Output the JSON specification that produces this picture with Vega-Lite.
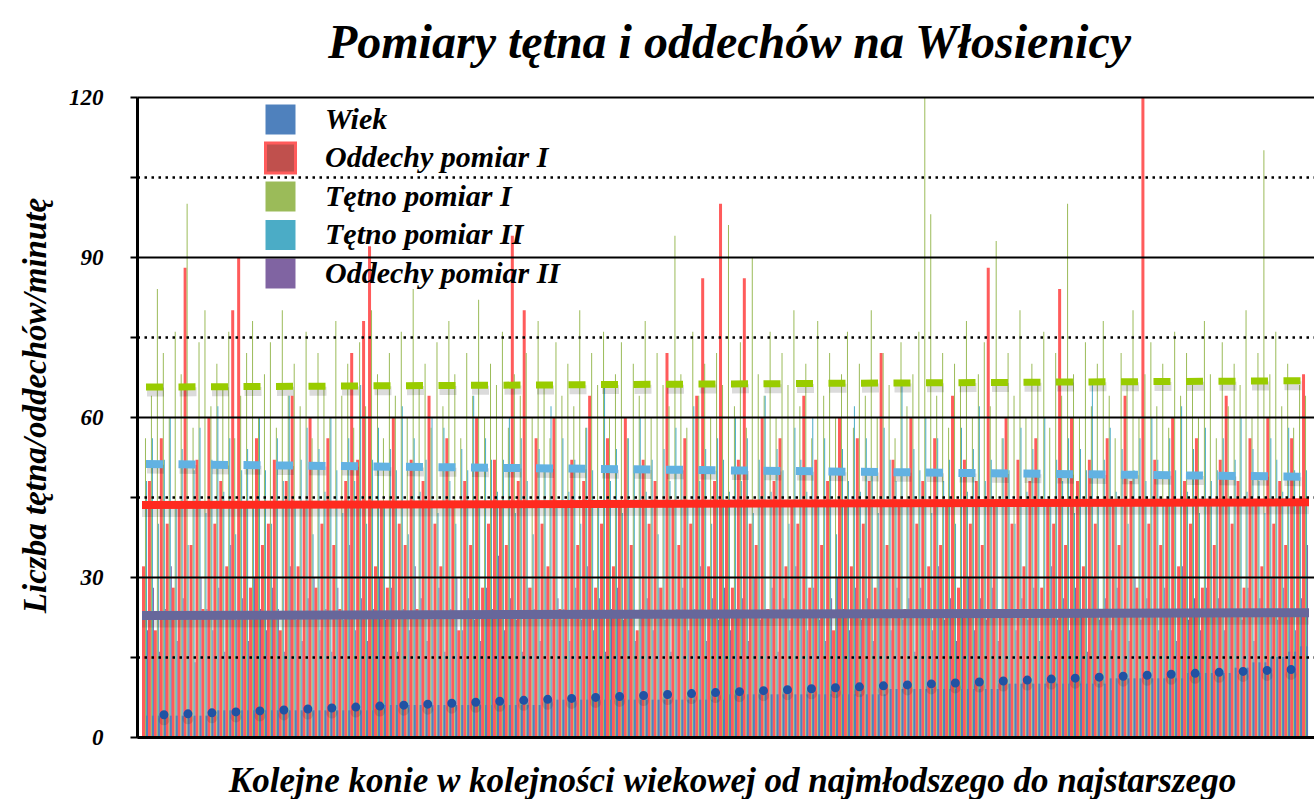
{
"$schema": "https://vega.github.io/schema/vega-lite/v6.json",
"width": 1177, "height": 640,
"autosize": {"type": "none"},
"padding": {"left": 137, "top": 97, "right": 0, "bottom": 62},
"background": "#ffffff",
"title": {"text": "Pomiary tętna i oddechów na Włosienicy", "font": "Liberation Serif", "fontSize": 48, "fontStyle": "italic", "fontWeight": "bold", "color": "#000000", "anchor": "middle", "baseline": "alphabetic", "offset": -20, "dx": 4},
"datasets": {
"horses": [
{"n":1,"w":4,"o1":32,"t1":56,"t2":48,"o2":20},
{"n":2,"w":4,"o1":48,"t1":64,"t2":56,"o2":28},
{"n":3,"w":4,"o1":20,"t1":84,"t2":40,"o2":16},
{"n":4,"w":4,"o1":56,"t1":72,"t2":52,"o2":24},
{"n":5,"w":4,"o1":40,"t1":60,"t2":60,"o2":32},
{"n":6,"w":4,"o1":28,"t1":76,"t2":44,"o2":18},
{"n":7,"w":4,"o1":44,"t1":68,"t2":54,"o2":26},
{"n":8,"w":4,"o1":88,"t1":100,"t2":36,"o2":22},
{"n":9,"w":4,"o1":36,"t1":58,"t2":50,"o2":14},
{"n":10,"w":4,"o1":52,"t1":74,"t2":58,"o2":30},
{"n":11,"w":4,"o1":24,"t1":80,"t2":42,"o2":24},
{"n":12,"w":5,"o1":60,"t1":62,"t2":52,"o2":20},
{"n":13,"w":5,"o1":40,"t1":70,"t2":62,"o2":28},
{"n":14,"w":5,"o1":48,"t1":66,"t2":46,"o2":16},
{"n":15,"w":5,"o1":32,"t1":76,"t2":56,"o2":36},
{"n":16,"w":5,"o1":80,"t1":56,"t2":38,"o2":22},
{"n":17,"w":5,"o1":90,"t1":64,"t2":50,"o2":26},
{"n":18,"w":5,"o1":44,"t1":72,"t2":54,"o2":18},
{"n":19,"w":5,"o1":28,"t1":78,"t2":44,"o2":30},
{"n":20,"w":5,"o1":56,"t1":60,"t2":60,"o2":24},
{"n":21,"w":5,"o1":36,"t1":68,"t2":50,"o2":20},
{"n":22,"w":5,"o1":40,"t1":74,"t2":40,"o2":28},
{"n":23,"w":5,"o1":52,"t1":58,"t2":56,"o2":24},
{"n":24,"w":5,"o1":20,"t1":80,"t2":48,"o2":16},
{"n":25,"w":5,"o1":48,"t1":64,"t2":64,"o2":32},
{"n":26,"w":5,"o1":64,"t1":70,"t2":44,"o2":22},
{"n":27,"w":5,"o1":32,"t1":62,"t2":52,"o2":18},
{"n":28,"w":5,"o1":44,"t1":76,"t2":58,"o2":26},
{"n":29,"w":5,"o1":60,"t1":56,"t2":38,"o2":30},
{"n":30,"w":5,"o1":28,"t1":72,"t2":54,"o2":20},
{"n":31,"w":5,"o1":40,"t1":66,"t2":46,"o2":24},
{"n":32,"w":5,"o1":56,"t1":60,"t2":60,"o2":16},
{"n":33,"w":5,"o1":36,"t1":78,"t2":50,"o2":28},
{"n":34,"w":5,"o1":24,"t1":64,"t2":42,"o2":22},
{"n":35,"w":5,"o1":48,"t1":70,"t2":56,"o2":36},
{"n":36,"w":5,"o1":72,"t1":58,"t2":48,"o2":20},
{"n":37,"w":5,"o1":52,"t1":74,"t2":66,"o2":26},
{"n":38,"w":5,"o1":78,"t1":62,"t2":40,"o2":18},
{"n":39,"w":5,"o1":92,"t1":80,"t2":52,"o2":24},
{"n":40,"w":6,"o1":32,"t1":68,"t2":58,"o2":30},
{"n":41,"w":6,"o1":44,"t1":56,"t2":44,"o2":22},
{"n":42,"w":6,"o1":28,"t1":72,"t2":54,"o2":28},
{"n":43,"w":6,"o1":60,"t1":64,"t2":50,"o2":16},
{"n":44,"w":6,"o1":40,"t1":76,"t2":62,"o2":24},
{"n":45,"w":6,"o1":36,"t1":60,"t2":38,"o2":20},
{"n":46,"w":6,"o1":52,"t1":84,"t2":56,"o2":32},
{"n":47,"w":6,"o1":24,"t1":66,"t2":46,"o2":26},
{"n":48,"w":6,"o1":48,"t1":70,"t2":52,"o2":18},
{"n":49,"w":6,"o1":64,"t1":58,"t2":60,"o2":22},
{"n":50,"w":6,"o1":40,"t1":74,"t2":42,"o2":28},
{"n":51,"w":6,"o1":32,"t1":62,"t2":58,"o2":16},
{"n":52,"w":6,"o1":56,"t1":78,"t2":48,"o2":24},
{"n":53,"w":6,"o1":44,"t1":68,"t2":40,"o2":30},
{"n":54,"w":6,"o1":20,"t1":56,"t2":54,"o2":20},
{"n":55,"w":6,"o1":48,"t1":72,"t2":50,"o2":26},
{"n":56,"w":6,"o1":36,"t1":64,"t2":64,"o2":22},
{"n":57,"w":6,"o1":60,"t1":82,"t2":44,"o2":18},
{"n":58,"w":6,"o1":28,"t1":60,"t2":56,"o2":28},
{"n":59,"w":6,"o1":40,"t1":70,"t2":52,"o2":24},
{"n":60,"w":6,"o1":52,"t1":66,"t2":46,"o2":34},
{"n":61,"w":6,"o1":44,"t1":76,"t2":52,"o2":20},
{"n":62,"w":6,"o1":36,"t1":58,"t2":60,"o2":26},
{"n":63,"w":6,"o1":94,"t1":68,"t2":42,"o2":22},
{"n":64,"w":6,"o1":48,"t1":64,"t2":56,"o2":16},
{"n":65,"w":6,"o1":80,"t1":72,"t2":48,"o2":28},
{"n":66,"w":6,"o1":28,"t1":60,"t2":38,"o2":24},
{"n":67,"w":6,"o1":56,"t1":78,"t2":54,"o2":18},
{"n":68,"w":7,"o1":40,"t1":66,"t2":50,"o2":30},
{"n":69,"w":7,"o1":32,"t1":56,"t2":62,"o2":22},
{"n":70,"w":7,"o1":60,"t1":74,"t2":44,"o2":26},
{"n":71,"w":7,"o1":24,"t1":64,"t2":56,"o2":24},
{"n":72,"w":7,"o1":44,"t1":70,"t2":46,"o2":18},
{"n":73,"w":7,"o1":52,"t1":62,"t2":52,"o2":28},
{"n":74,"w":7,"o1":36,"t1":80,"t2":40,"o2":22},
{"n":75,"w":7,"o1":48,"t1":58,"t2":58,"o2":32},
{"n":76,"w":7,"o1":64,"t1":72,"t2":50,"o2":20},
{"n":77,"w":7,"o1":28,"t1":66,"t2":44,"o2":26},
{"n":78,"w":7,"o1":40,"t1":76,"t2":66,"o2":16},
{"n":79,"w":7,"o1":56,"t1":60,"t2":48,"o2":24},
{"n":80,"w":7,"o1":32,"t1":68,"t2":54,"o2":28},
{"n":81,"w":7,"o1":44,"t1":74,"t2":42,"o2":22},
{"n":82,"w":7,"o1":60,"t1":56,"t2":56,"o2":30},
{"n":83,"w":7,"o1":36,"t1":70,"t2":50,"o2":18},
{"n":84,"w":7,"o1":20,"t1":64,"t2":60,"o2":24},
{"n":85,"w":7,"o1":52,"t1":78,"t2":46,"o2":26},
{"n":86,"w":7,"o1":40,"t1":60,"t2":52,"o2":20},
{"n":87,"w":7,"o1":48,"t1":72,"t2":38,"o2":28},
{"n":88,"w":7,"o1":28,"t1":66,"t2":54,"o2":22},
{"n":89,"w":7,"o1":72,"t1":62,"t2":48,"o2":16},
{"n":90,"w":7,"o1":44,"t1":94,"t2":58,"o2":24},
{"n":91,"w":7,"o1":36,"t1":68,"t2":50,"o2":28},
{"n":92,"w":7,"o1":56,"t1":58,"t2":44,"o2":20},
{"n":93,"w":7,"o1":40,"t1":76,"t2":62,"o2":24},
{"n":94,"w":7,"o1":64,"t1":64,"t2":48,"o2":32},
{"n":95,"w":7,"o1":86,"t1":70,"t2":54,"o2":18},
{"n":96,"w":7,"o1":32,"t1":60,"t2":40,"o2":26},
{"n":97,"w":7,"o1":48,"t1":72,"t2":56,"o2":22},
{"n":98,"w":7,"o1":100,"t1":66,"t2":52,"o2":28},
{"n":99,"w":8,"o1":44,"t1":96,"t2":46,"o2":20},
{"n":100,"w":8,"o1":28,"t1":62,"t2":60,"o2":24},
{"n":101,"w":8,"o1":52,"t1":74,"t2":48,"o2":26},
{"n":102,"w":8,"o1":86,"t1":58,"t2":56,"o2":18},
{"n":103,"w":8,"o1":40,"t1":90,"t2":42,"o2":30},
{"n":104,"w":8,"o1":36,"t1":68,"t2":52,"o2":22},
{"n":105,"w":8,"o1":60,"t1":64,"t2":64,"o2":24},
{"n":106,"w":8,"o1":24,"t1":76,"t2":46,"o2":28},
{"n":107,"w":8,"o1":48,"t1":60,"t2":54,"o2":16},
{"n":108,"w":8,"o1":56,"t1":72,"t2":50,"o2":26},
{"n":109,"w":8,"o1":32,"t1":66,"t2":40,"o2":20},
{"n":110,"w":8,"o1":44,"t1":80,"t2":58,"o2":32},
{"n":111,"w":8,"o1":40,"t1":62,"t2":52,"o2":24},
{"n":112,"w":8,"o1":64,"t1":70,"t2":46,"o2":20},
{"n":113,"w":8,"o1":28,"t1":56,"t2":60,"o2":28},
{"n":114,"w":8,"o1":52,"t1":78,"t2":44,"o2":22},
{"n":115,"w":8,"o1":36,"t1":64,"t2":56,"o2":18},
{"n":116,"w":8,"o1":48,"t1":72,"t2":50,"o2":26},
{"n":117,"w":8,"o1":20,"t1":60,"t2":38,"o2":30},
{"n":118,"w":8,"o1":60,"t1":68,"t2":54,"o2":24},
{"n":119,"w":8,"o1":44,"t1":76,"t2":48,"o2":20},
{"n":120,"w":8,"o1":32,"t1":58,"t2":62,"o2":28},
{"n":121,"w":8,"o1":56,"t1":70,"t2":46,"o2":22},
{"n":122,"w":8,"o1":40,"t1":64,"t2":56,"o2":26},
{"n":123,"w":8,"o1":48,"t1":80,"t2":50,"o2":18},
{"n":124,"w":8,"o1":28,"t1":60,"t2":42,"o2":30},
{"n":125,"w":8,"o1":72,"t1":72,"t2":58,"o2":24},
{"n":126,"w":9,"o1":36,"t1":66,"t2":52,"o2":20},
{"n":127,"w":9,"o1":52,"t1":56,"t2":48,"o2":28},
{"n":128,"w":9,"o1":44,"t1":74,"t2":66,"o2":22},
{"n":129,"w":9,"o1":24,"t1":62,"t2":44,"o2":26},
{"n":130,"w":9,"o1":60,"t1":68,"t2":54,"o2":16},
{"n":131,"w":9,"o1":40,"t1":76,"t2":50,"o2":28},
{"n":132,"w":9,"o1":48,"t1":120,"t2":60,"o2":24},
{"n":133,"w":9,"o1":32,"t1":98,"t2":42,"o2":20},
{"n":134,"w":9,"o1":56,"t1":64,"t2":56,"o2":32},
{"n":135,"w":9,"o1":36,"t1":72,"t2":48,"o2":22},
{"n":136,"w":9,"o1":44,"t1":58,"t2":52,"o2":26},
{"n":137,"w":9,"o1":64,"t1":70,"t2":40,"o2":18},
{"n":138,"w":9,"o1":28,"t1":66,"t2":58,"o2":24},
{"n":139,"w":9,"o1":52,"t1":78,"t2":46,"o2":30},
{"n":140,"w":9,"o1":40,"t1":60,"t2":54,"o2":20},
{"n":141,"w":9,"o1":48,"t1":68,"t2":62,"o2":26},
{"n":142,"w":9,"o1":36,"t1":74,"t2":48,"o2":22},
{"n":143,"w":9,"o1":88,"t1":62,"t2":52,"o2":28},
{"n":144,"w":9,"o1":44,"t1":93,"t2":44,"o2":18},
{"n":145,"w":10,"o1":24,"t1":56,"t2":56,"o2":24},
{"n":146,"w":10,"o1":60,"t1":72,"t2":50,"o2":30},
{"n":147,"w":10,"o1":40,"t1":64,"t2":40,"o2":20},
{"n":148,"w":10,"o1":52,"t1":80,"t2":58,"o2":26},
{"n":149,"w":10,"o1":32,"t1":60,"t2":46,"o2":22},
{"n":150,"w":10,"o1":48,"t1":70,"t2":54,"o2":28},
{"n":151,"w":10,"o1":56,"t1":66,"t2":50,"o2":18},
{"n":152,"w":10,"o1":28,"t1":76,"t2":60,"o2":24},
{"n":153,"w":10,"o1":44,"t1":58,"t2":44,"o2":32},
{"n":154,"w":10,"o1":40,"t1":72,"t2":52,"o2":22},
{"n":155,"w":10,"o1":84,"t1":64,"t2":48,"o2":26},
{"n":156,"w":10,"o1":36,"t1":100,"t2":56,"o2":20},
{"n":157,"w":10,"o1":60,"t1":68,"t2":42,"o2":28},
{"n":158,"w":10,"o1":48,"t1":60,"t2":54,"o2":24},
{"n":159,"w":10,"o1":32,"t1":74,"t2":50,"o2":16},
{"n":160,"w":10,"o1":52,"t1":62,"t2":66,"o2":30},
{"n":161,"w":10,"o1":40,"t1":70,"t2":44,"o2":22},
{"n":162,"w":10,"o1":24,"t1":78,"t2":52,"o2":26},
{"n":163,"w":11,"o1":56,"t1":64,"t2":58,"o2":20},
{"n":164,"w":11,"o1":44,"t1":56,"t2":46,"o2":28},
{"n":165,"w":11,"o1":36,"t1":72,"t2":54,"o2":24},
{"n":166,"w":11,"o1":64,"t1":66,"t2":40,"o2":18},
{"n":167,"w":11,"o1":48,"t1":80,"t2":50,"o2":30},
{"n":168,"w":11,"o1":28,"t1":60,"t2":56,"o2":22},
{"n":169,"w":11,"o1":120,"t1":68,"t2":48,"o2":26},
{"n":170,"w":11,"o1":40,"t1":74,"t2":60,"o2":24},
{"n":171,"w":11,"o1":52,"t1":62,"t2":52,"o2":20},
{"n":172,"w":11,"o1":36,"t1":70,"t2":44,"o2":28},
{"n":173,"w":11,"o1":44,"t1":58,"t2":56,"o2":24},
{"n":174,"w":11,"o1":60,"t1":76,"t2":50,"o2":18},
{"n":175,"w":11,"o1":32,"t1":64,"t2":62,"o2":32},
{"n":176,"w":12,"o1":48,"t1":72,"t2":46,"o2":22},
{"n":177,"w":12,"o1":40,"t1":66,"t2":54,"o2":26},
{"n":178,"w":12,"o1":56,"t1":60,"t2":42,"o2":20},
{"n":179,"w":12,"o1":28,"t1":78,"t2":58,"o2":28},
{"n":180,"w":12,"o1":44,"t1":68,"t2":48,"o2":24},
{"n":181,"w":12,"o1":36,"t1":56,"t2":50,"o2":26},
{"n":182,"w":12,"o1":52,"t1":74,"t2":56,"o2":20},
{"n":183,"w":12,"o1":64,"t1":62,"t2":44,"o2":30},
{"n":184,"w":13,"o1":40,"t1":70,"t2":52,"o2":24},
{"n":185,"w":13,"o1":48,"t1":66,"t2":60,"o2":22},
{"n":186,"w":13,"o1":28,"t1":80,"t2":46,"o2":28},
{"n":187,"w":14,"o1":56,"t1":60,"t2":54,"o2":18},
{"n":188,"w":14,"o1":44,"t1":72,"t2":48,"o2":26},
{"n":189,"w":14,"o1":32,"t1":110,"t2":42,"o2":24},
{"n":190,"w":15,"o1":60,"t1":68,"t2":56,"o2":30},
{"n":191,"w":15,"o1":40,"t1":76,"t2":52,"o2":22},
{"n":192,"w":15,"o1":48,"t1":62,"t2":46,"o2":28},
{"n":193,"w":16,"o1":36,"t1":70,"t2":58,"o2":24},
{"n":194,"w":16,"o1":56,"t1":58,"t2":50,"o2":20},
{"n":195,"w":17,"o1":44,"t1":66,"t2":44,"o2":26},
{"n":196,"w":17,"o1":68,"t1":64,"t2":50,"o2":36}
],
"trend": [
{"s":"t1","n":0.5,"v":65.6},{"s":"t1","n":196.67,"v":66.8},
{"s":"t2","n":0.5,"v":51.2},{"s":"t2","n":196.67,"v":48.8},
{"s":"o1","n":0.5,"v":43.5},{"s":"o1","n":196.67,"v":44.0},
{"s":"o2","n":0.5,"v":22.8},{"s":"o2","n":196.67,"v":23.3},
{"s":"w","n":0.5,"v":4.0},{"s":"w","n":196.67,"v":12.8}
]
},
"layer": [
{"data": {"name": "horses"}, "mark": {"type": "bar", "size": 1, "xOffset": 2.5, "color": "#8064A2"},
"encoding": {
"x": {"field": "n", "type": "quantitative", "scale": {"domain": [0.5, 196.6667], "nice": false, "zero": false},
"axis": {"labels": false, "ticks": false, "grid": false, "domainColor": "#000000", "domainWidth": 3, "zindex": 1,
"title": "Kolejne konie w kolejności wiekowej od najmłodszego do najstarszego", "titleFont": "Liberation Serif", "titleFontSize": 35, "titleFontStyle": "italic", "titleFontWeight": "bold", "titleColor": "#000000", "titleBaseline": "alphabetic", "titleAlign": "center", "titleX": 595, "titleY": 54}},
"y": {"field": "o2", "type": "quantitative", "scale": {"domain": [0, 120], "nice": false},
"axis": {"values": [0, 15, 30, 45, 60, 75, 90, 105, 120], "labelExpr": "datum.value % 30 === 0 ? datum.label : ''",
"grid": true, "gridColor": "#000000",
"gridWidth": {"condition": {"test": "datum.value % 30 === 0", "value": 2.2}, "value": 2.5},
"gridDash": {"condition": {"test": "datum.value % 30 === 0", "value": [1, 0]}, "value": [2.5, 4.5]},
"domainColor": "#000000", "domainWidth": 3, "tickColor": "#000000", "tickWidth": 2, "tickSize": 7, "zindex": 1,
"labelFont": "Liberation Serif", "labelFontSize": 23, "labelFontStyle": "italic", "labelFontWeight": "bold", "labelColor": "#000000", "labelPadding": 27,
"title": "Liczba tętna/oddechów/minutę", "titleFont": "Liberation Serif", "titleFontSize": 33, "titleFontStyle": "italic", "titleFontWeight": "bold", "titleColor": "#000000",
"titleAngle": 270, "titleBaseline": "middle", "titleAlign": "center", "titleX": -102, "titleY": 308}}
}},
{"data": {"name": "horses"}, "mark": {"type": "bar", "size": 3, "xOffset": -1.5, "color": "#FF5B5B"},
"encoding": {"x": {"field": "n", "type": "quantitative"}, "y": {"field": "o1", "type": "quantitative"}}},
{"data": {"name": "horses"}, "mark": {"type": "bar", "size": 1, "xOffset": 0.5, "color": "#9BBB59"},
"encoding": {"x": {"field": "n", "type": "quantitative"}, "y": {"field": "t1", "type": "quantitative"}}},
{"data": {"name": "horses"}, "mark": {"type": "bar", "size": 1, "xOffset": 1.5, "color": "#4BACC6"},
"encoding": {"x": {"field": "n", "type": "quantitative"}, "y": {"field": "t2", "type": "quantitative"}}},
{"data": {"name": "horses"}, "mark": {"type": "bar", "size": 2, "xOffset": 2},
"encoding": {"x": {"field": "n", "type": "quantitative"}, "y": {"field": "w", "type": "quantitative"},
"fill": {"datum": "Wiek",
"scale": {"domain": ["Wiek", "Oddechy pomiar I", "Tętno pomiar I", "Tętno pomiar II", "Oddechy pomiar II"], "range": ["#4F81BD", "#C0504D", "#9BBB59", "#4BACC6", "#8064A2"]},
"legend": {"orient": "none", "legendX": 127, "legendY": 6, "title": null, "symbolType": "square", "symbolSize": 900, "symbolStrokeWidth": 0,
"labelFont": "Liberation Serif", "labelFontSize": 30, "labelFontStyle": "italic", "labelFontWeight": "bold", "labelColor": "#000000", "labelOffset": 28, "labelLimit": 400, "rowPadding": -4.5, "padding": 0,
"encode": {"symbols": {"update": {"stroke": {"signal": "datum.value === 'Oddechy pomiar I' ? '#FF5B5B' : 'transparent'"}, "strokeWidth": {"value": 3}}}}}}}},
{"data": {"name": "trend"}, "transform": [{"filter": "datum.s === 'o1' || datum.s === 'o2'"}],
"mark": {"type": "line", "stroke": "#000000", "opacity": 0.12, "strokeWidth": 12, "yOffset": 6},
"encoding": {"x": {"field": "n", "type": "quantitative"}, "y": {"field": "v", "type": "quantitative"}, "detail": {"field": "s"}}},
{"data": {"name": "trend"}, "transform": [{"filter": "datum.s === 't1' || datum.s === 't2'"}],
"mark": {"type": "line", "stroke": "#000000", "opacity": 0.14, "strokeWidth": 9, "yOffset": 5, "xOffset": 1, "strokeDash": [17, 15.5], "strokeDashOffset": 28.5},
"encoding": {"x": {"field": "n", "type": "quantitative"}, "y": {"field": "v", "type": "quantitative"}, "detail": {"field": "s"}}},
{"data": {"name": "trend"}, "transform": [{"filter": "datum.s === 'w'"}],
"mark": {"type": "line", "stroke": "#000000", "opacity": 0.12, "strokeWidth": 11, "strokeCap": "round", "strokeDash": [0, 24], "strokeDashOffset": 2, "yOffset": 5},
"encoding": {"x": {"field": "n", "type": "quantitative"}, "y": {"field": "v", "type": "quantitative"}}},
{"data": {"name": "trend"}, "transform": [{"filter": "datum.s === 'o2'"}],
"mark": {"type": "line", "stroke": "#67679B", "strokeWidth": 9},
"encoding": {"x": {"field": "n", "type": "quantitative"}, "y": {"field": "v", "type": "quantitative"}}},
{"data": {"name": "trend"}, "transform": [{"filter": "datum.s === 'o1'"}],
"mark": {"type": "line", "stroke": "#FF2A1F", "strokeWidth": 8},
"encoding": {"x": {"field": "n", "type": "quantitative"}, "y": {"field": "v", "type": "quantitative"}}},
{"data": {"name": "trend"}, "transform": [{"filter": "datum.s === 't2'"}],
"mark": {"type": "line", "stroke": "#62B2E2", "strokeWidth": 8, "strokeDash": [17, 15.5], "strokeDashOffset": 28.5},
"encoding": {"x": {"field": "n", "type": "quantitative"}, "y": {"field": "v", "type": "quantitative"}}},
{"data": {"name": "trend"}, "transform": [{"filter": "datum.s === 't1'"}],
"mark": {"type": "line", "stroke": "#99CC00", "strokeWidth": 7, "strokeDash": [17, 15.5], "strokeDashOffset": 28.5},
"encoding": {"x": {"field": "n", "type": "quantitative"}, "y": {"field": "v", "type": "quantitative"}}},
{"data": {"name": "trend"}, "transform": [{"filter": "datum.s === 'w'"}],
"mark": {"type": "line", "stroke": "#2152A3", "strokeWidth": 9, "strokeCap": "round", "strokeDash": [0, 24], "strokeDashOffset": 2},
"encoding": {"x": {"field": "n", "type": "quantitative"}, "y": {"field": "v", "type": "quantitative"}}}
],
"config": {"view": {"stroke": null}, "font": "Liberation Serif"}
}
